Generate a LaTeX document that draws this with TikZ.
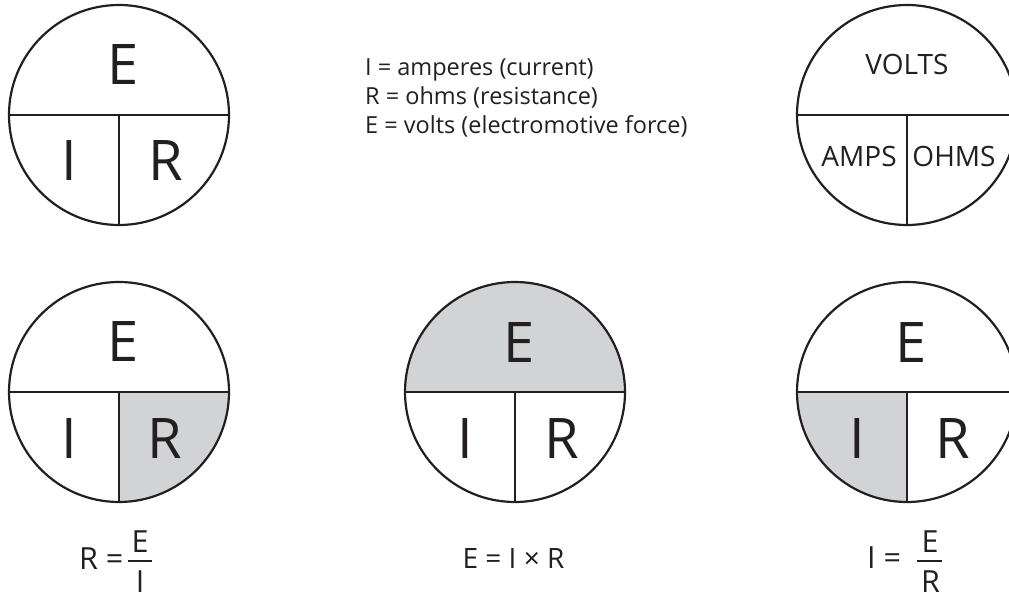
\documentclass[tikz,border=0pt]{standalone}
\usepackage{fontspec}
\setmainfont{Open Sans}
\definecolor{sectorgray}{RGB}{209,211,212}
\definecolor{ink}{RGB}{35,31,32}
\begin{document}
\begin{tikzpicture}[x=1pt,y=1pt,
  ring/.style={circle, draw=ink, line width=2.2pt, minimum size=220pt, inner sep=0pt},
  divider/.style={draw=ink, line width=2.2pt},
  big/.style={font=\fontsize{56}{60}\selectfont, text=ink, inner sep=0pt, anchor=base},
  word/.style={font=\fontsize{28}{32}\selectfont, text=ink, inner sep=0pt, anchor=base},
  keytext/.style={font=\fontsize{23.5}{28}\selectfont, text=ink, inner sep=0pt, anchor=base west},
  formula/.style={font=\fontsize{30.5}{34}\selectfont, text=ink, inner sep=0pt},
  formulab/.style={font=\fontsize{28}{32}\selectfont, text=ink, inner sep=0pt, anchor=base},
  fracbar/.style={draw=ink, line width=2pt}]
\useasboundingbox (0,0) rectangle (1009,600);

% shaded sectors
\begin{scope}
  \clip (119,208) circle (110);
  \fill[sectorgray] (119,208) rectangle (240,90);
\end{scope}
\begin{scope}
  \clip (515,208) circle (110);
  \fill[sectorgray] (400,208) rectangle (630,330);
\end{scope}
\begin{scope}
  \clip (907,208) circle (110);
  \fill[sectorgray] (790,208) rectangle (907,90);
\end{scope}

% circles
\node[ring] (tl) at (119,485) {};
\node[ring] (tr) at (907,485) {};
\node[ring] (bl) at (119,208) {};
\node[ring] (bm) at (515,208) {};
\node[ring] (br) at (907,208) {};

\foreach \c in {tl,tr,bl,bm,br}{
  \draw[divider] (\c.west) -- (\c.east);
  \draw[divider] (\c.center) -- (\c.south);
}

% top-left labels
\node[big] (tlE) at (123,515) {E};
\node[big] (tlI) at (69,419) {I};
\node[big] (tlR) at (166,419) {R};

% top-right labels
\node[word] (trV) at (907,525) {VOLTS};
\node[word] (trA) at (859,433) {AMPS};
\node[word] (trO) at (954,433) {OHMS};

% key
\node[keytext] (l1) at (365,524) {I = amperes (current)};
\node[keytext] (l2) at (365,495) {R = ohms (resistance)};
\node[keytext] (l3) at (365,466) {E = volts (electromotive force)};

% bottom-left labels
\node[big] (blE) at (123,238) {E};
\node[big] (blI) at (69,142) {I};
\node[big] (blR) at (165,142) {R};

% bottom-middle labels
\node[big] (bmE) at (519,237) {E};
\node[big] (bmI) at (465,142) {I};
\node[big] (bmR) at (562,142) {R};

% bottom-right labels
\node[big] (brE) at (911,237) {E};
\node[big] (brI) at (857,142) {I};
\node[big] (brR) at (953,142) {R};

% formula R = E / I
\node[formula, anchor=base west] (f1a) at (79,31) {R =};
\node[formula, anchor=base] (f1n) at (140,48) {E};
\node[formula, anchor=base] (f1d) at (140,8) {I};
\draw[fracbar] (128,39) -- (152,39);

% formula E = I x R
\node[formulab] (f2) at (513.5,32) {E = I × R};

% formula I = E / R
\node[formula, anchor=base west] (f3a) at (867,32) {I =};
\node[formula, anchor=base] (f3n) at (930,48) {E};
\node[formula, anchor=base] (f3d) at (930.5,8) {R};
\draw[fracbar] (917,39) -- (942,39);
\end{tikzpicture}
\end{document}
